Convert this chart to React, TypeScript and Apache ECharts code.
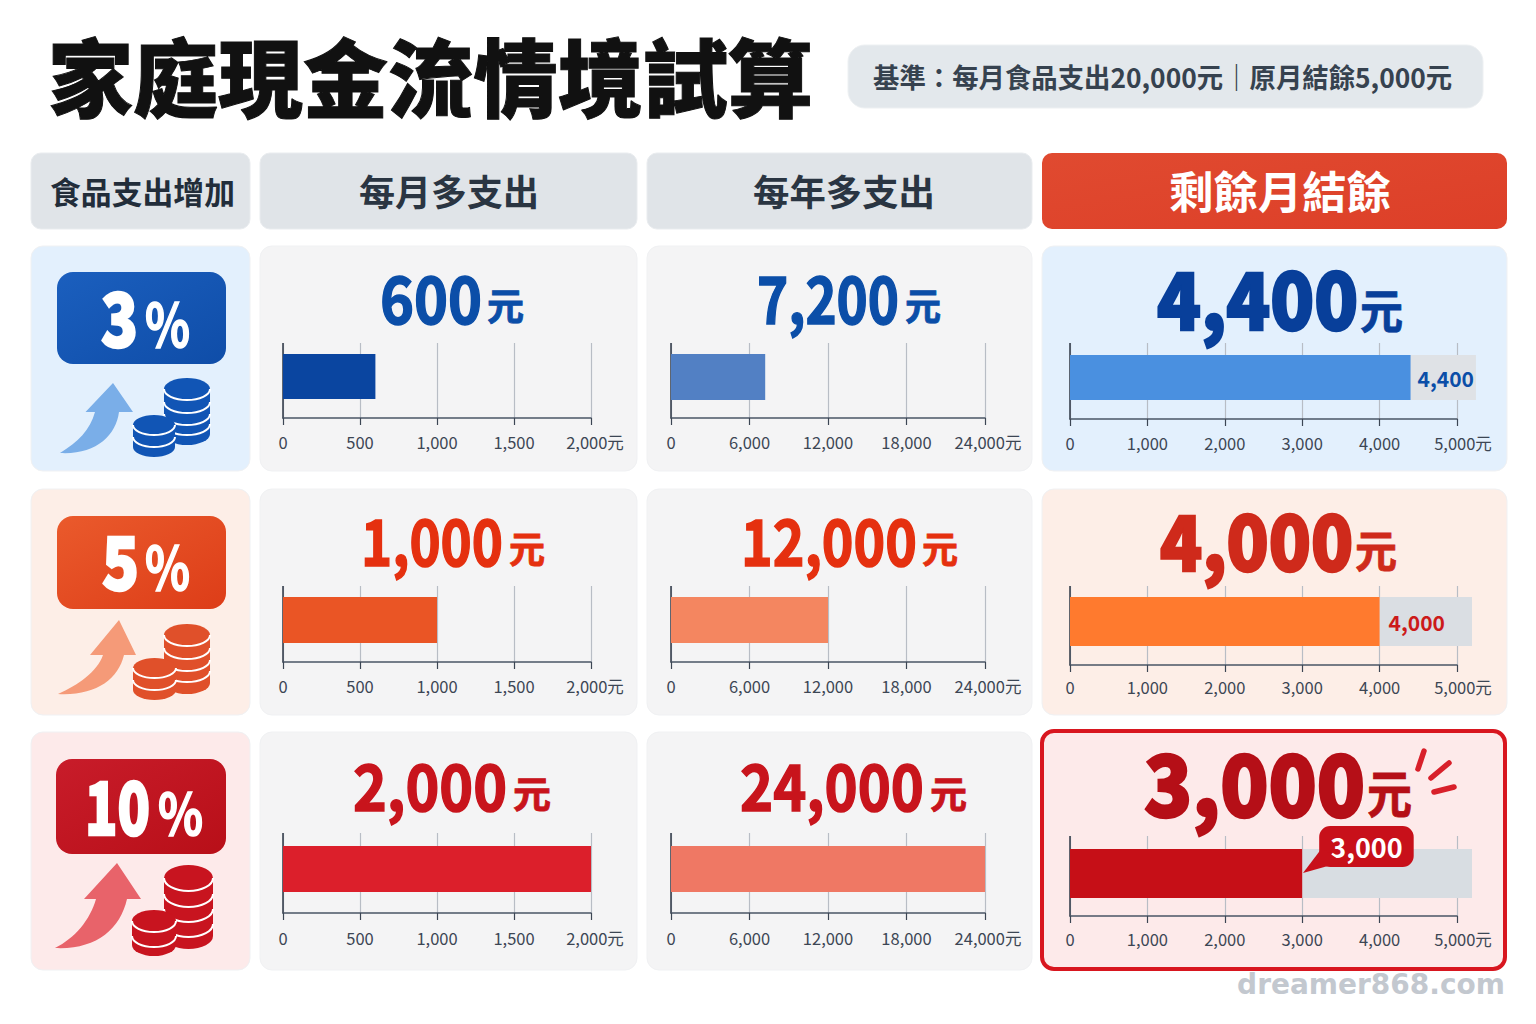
import React, { useEffect, useLayoutEffect, useRef } from "react";
import * as echarts from "echarts";

const FONT = '"Noto Sans CJK TC", "Noto Sans", sans-serif';

// ---- data ----
const title = "家庭現金流情境試算";
const subtitle = "基準：每月食品支出20,000元｜原月結餘5,000元";
const headers = ["食品支出增加", "每月多支出", "每年多支出", "剩餘月結餘"];
const increases = ["3", "5", "10"];
const monthlyExtra = [600, 1000, 2000];
const yearlyExtra = [7200, 12000, 24000];
const remaining = [4400, 4000, 3000];
const remainingTrack = [5245, 5194, 5194];
const monthlyTicks = [0, 500, 1000, 1500, 2000];
const yearlyTicks = [0, 6000, 12000, 18000, 24000];
const remainingTicks = [0, 1000, 2000, 3000, 4000, 5000];
const unit = "元";
const watermark = "dreamer868.com";

const fmt = (v: number) => v.toLocaleString("en-US");

// ---- layout & palette ----
const rowBoxes = [[246, 471], [489, 715], [732, 970]];
const colBoxes = [[31, 250], [260, 637], [647, 1032], [1042, 1507]];
const plotX = [[283, 591], [671, 985], [1070, 1457]];
// barTop, barBottom, axisY, lineTop per row and plot column
const plotY = [
  [[354, 399, 418, 343], [354, 400, 418, 343], [355, 400, 419, 343]],
  [[597, 643, 662, 586], [597, 643, 662, 586], [597, 646, 665, 586]],
  [[846, 892, 913, 833], [846, 892, 913, 833], [849, 898, 916, 836]],
];
const labelMargins = [[16, 16, 16], [16, 16, 14], [17, 17, 15]];
const lastLabelPad = [8, 6, 12];
const panelFill = [
  ["#e3f0fd", "#f4f4f5", "#f4f4f5", "#e3f0fd"],
  ["#fdeee7", "#f4f4f5", "#f4f4f5", "#fdeee7"],
  ["#fdeaea", "#f4f4f5", "#f4f4f5", "#fdeaea"],
];
const barColors = [
  ["#0a45a0", "#5280c4", "#4a90e0"],
  ["#ea5525", "#f48660", "#ff7a2e"],
  ["#dc1f2b", "#ef7864", "#c60f17"],
];
const trackColors = ["#dfe2e6", "#dadee3", "#d8dde2"];
const textColors = [
  ["#0b4ea8", "#0b4ea8", "#083f9a"],
  ["#e5300f", "#e5300f", "#cf2a1b"],
  ["#c8141c", "#c8141c", "#b50f17"],
];
const badgeColors = [["#1b5fbe", "#0f4da8"], ["#ea5a2c", "#dd3d18"], ["#c81c2a", "#b80f18"]];
const arrowColors = ["#7aaee8", "#f59a78", "#e8636a"];
const coinColors = ["#1155b5", "#e0502a", "#c8141f"];
const badgeBoxes = [[57, 226, 272, 364], [57, 226, 516, 609], [56, 226, 759, 854]];
// digit left, right, top, bottom
const pctBoxes = [[101, 138, 293, 347], [102, 139, 536, 590], [85, 150, 781, 835]];
// percent left, right, top, bottom
const pctSignBoxes = [[145, 190, 303, 347], [145, 190, 546, 590], [158, 203, 793, 835]];
// digits L,R,T,B  unit L,R,T,B
const valueBoxes = [
  [[380, 482, 276, 324, 487, 524, 290, 323], [757, 899, 276, 324, 905, 941, 290, 323], [1157, 1358, 272, 330, 1360, 1403, 290, 331]],
  [[361, 503, 519, 566, 509, 545, 533, 565], [741, 917, 519, 566, 922, 958, 533, 565], [1160, 1353, 515, 571, 1355, 1397, 532, 571]],
  [[353, 507, 764, 811, 513, 551, 778, 811], [740, 924, 764, 811, 930, 967, 778, 811], [1144, 1365, 755, 817, 1367, 1412, 772, 817]],
];
const arrowPaths = [
  "M60,453 C78,442 90,430 95,412 L85.5,412 L113,383 L133,412 L119,412 C116,436 95,455 60,453Z",
  "M58,694 C78,685 97,672 103,655 L90,655 L119,620 L136,655 L124,655 C118,680 95,696 58,694Z",
  "M55,948 C75,938 90,920 96,899 L84,899 L117,863 L141,899 L127,899 C120,930 95,950 55,948Z",
];
type Stack = { x: number; w: number; cy: number; ry: number; bottom: number; lines: number[] };
const stacks: Stack[][] = [
  [
    { x: 164, w: 46, cy: 389, ry: 11, bottom: 445, lines: [400, 413, 425, 435] },
    { x: 133, w: 42, cy: 425, ry: 10, bottom: 457, lines: [435, 447] },
  ],
  [
    { x: 164, w: 46, cy: 635, ry: 11, bottom: 694, lines: [646, 659, 671, 682] },
    { x: 133, w: 43, cy: 668, ry: 10, bottom: 700, lines: [678, 690] },
  ],
  [
    { x: 164, w: 49, cy: 878, ry: 13, bottom: 949, lines: [891, 907, 922, 937] },
    { x: 132, w: 44, cy: 921, ry: 11, bottom: 956, lines: [932, 947] },
  ],
];

arrowPaths.forEach((d, i) => {
  echarts.graphic.registerShape(`arrow${i}`, echarts.graphic.extendPath(d, {}) as any);
});
const stackBody = (s: Stack) => {
  const r = s.w / 2;
  return `M${s.x},${s.cy} A${r},${s.ry} 0 0 1 ${s.x + s.w},${s.cy} L${s.x + s.w},${s.bottom - s.ry} A${r},${s.ry} 0 0 1 ${s.x},${s.bottom - s.ry} Z`;
};
const stackLines = (s: Stack) => {
  const r = s.w / 2;
  return s.lines
    .map((y) => `M${s.x},${y - s.ry} A${r},${s.ry} 0 0 0 ${s.x + s.w},${y - s.ry}`)
    .join(" ");
};
stacks.forEach((pair, i) =>
  pair.forEach((s, j) => {
    echarts.graphic.registerShape(`coin${i}${j}`, echarts.graphic.extendPath(stackBody(s), {}) as any);
    echarts.graphic.registerShape(`coinl${i}${j}`, echarts.graphic.extendPath(stackLines(s), {}) as any);
  })
);

let measureCtx: CanvasRenderingContext2D | null = null;
const measure = (text: string, size: number, weight: number | string) => {
  if (!measureCtx) measureCtx = document.createElement("canvas").getContext("2d");
  measureCtx!.font = `${weight} ${size}px ${FONT}`;
  return measureCtx!.measureText(text).width;
};

// A text squeezed to a known left/right span, vertically centred on cy
const fitText = (
  text: string,
  l: number,
  r: number,
  cy: number,
  size: number,
  weight: number,
  fill: string,
  bold = 0
) => {
  const w = measure(text, size, weight);
  return {
    type: "text",
    x: l,
    y: cy - 0.07 * size,
    scaleX: (r - l) / w,
    z: 6,
    style: {
      text,
      fill,
      fontSize: size,
      fontWeight: weight,
      fontFamily: FONT,
      align: "left",
      verticalAlign: "middle",
      ...(bold ? { stroke: fill, lineWidth: bold, lineJoin: "round" } : {}),
    },
  };
};

const rect = (x1: number, y1: number, x2: number, y2: number, fill: any, r: number, z = -1, extra: any = {}) => ({
  type: "rect",
  z,
  shape: { x: x1, y: y1, width: x2 - x1, height: y2 - y1, r },
  style: { fill, ...extra },
});
const grad = (a: string, b: string) => ({
  type: "linear",
  x: 0,
  y: 0,
  x2: 1,
  y2: 1,
  colorStops: [
    { offset: 0, color: a },
    { offset: 1, color: b },
  ],
});

function buildOption() {
  const graphics: any[] = [];
  // subtitle
  graphics.push(rect(848, 45, 1483, 108, "#e3e8ec", 17, -1, { stroke: "#edf0f2", lineWidth: 1 }));
  graphics.push(fitText(subtitle, 873, 1452, 78, 27, 700, "#36424f"));
  // header row
  const headerSpan = [[50, 235, 31, "#222d3a"], [359, 539, 36, "#2a3542"], [753, 935, 36, "#2a3542"], [1169, 1391, 44, "#ffffff"]] as any[];
  headers.forEach((h, c) => {
    const [x1, x2] = colBoxes[c];
    const fill = c === 3 ? grad("#e04a30", "#dd3f28") : "#e0e4e8";
    graphics.push(rect(x1, 153, x2, 229, fill, 10, -1, c === 3 ? {} : { stroke: "#e9ecef", lineWidth: 1 }));
    const [l, r, s, col] = headerSpan[c];
    graphics.push(fitText(h, l, r, 193, s, 700, col));
  });
  rowBoxes.forEach(([y1, y2], r) => {
    colBoxes.forEach(([x1, x2], c) => {
      const hot = r === 2 && c === 3;
      if (hot) {
        graphics.push(rect(1042, 731, 1505, 969, panelFill[r][c], 12, -1, { stroke: "#d8161f", lineWidth: 4 }));
      } else {
        graphics.push(rect(x1, y1, x2, y2, panelFill[r][c], 12, -1, { stroke: "#f0f1f3", lineWidth: 1 }));
      }
    });
    // badge
    const [bx1, bx2, by1, by2] = badgeBoxes[r];
    graphics.push(rect(bx1, by1, bx2, by2, grad(badgeColors[r][0], badgeColors[r][1]), 16, 1));
    const [pl, pr, pt, pb] = pctBoxes[r];
    graphics.push(fitText(increases[r], pl, pr, (pt + pb) / 2, (pb - pt) / 0.733, 900, "#ffffff", 2.5));
    const [sl, sr, st, sb] = pctSignBoxes[r];
    graphics.push(fitText("%", sl, sr, (st + sb) / 2, (sb - st) / 0.733, 700, "#ffffff", 1.5));
    // arrow
    graphics.push({ type: `arrow${r}`, z: 1, style: { fill: arrowColors[r] } });
    // coins
    stacks[r].forEach((_, j) => {
      graphics.push({ type: `coin${r}${j}`, z: 1 + j * 0.2, style: { fill: coinColors[r] } });
      graphics.push({ type: `coinl${r}${j}`, z: 1.1 + j * 0.2, style: { fill: "none", stroke: "#ffffff", lineWidth: 2 } });
    });
    // big values
    [monthlyExtra[r], yearlyExtra[r], remaining[r]].forEach((v, c) => {
      const [dl, dr, dt, db, ul, ur, ut, ub] = valueBoxes[r][c];
      const weight = c === 2 ? 900 : 700;
      graphics.push(fitText(fmt(v), dl, dr, (dt + db) / 2, (db - dt) / 0.733, weight, textColors[r][c], c === 2 ? 2.5 : 1.5));
      graphics.push(fitText(unit, ul, ur, (ut + ub) / 2, (ub - ut) / 0.88, 700, textColors[r][c], 0.8));
      // hides the band above the top of the gridlines
      const [x0, x1] = plotX[c];
      const [bt, bb, ax, lt] = plotY[r][c];
      const top = ax - 2 * (ax - (bt + bb) / 2);
      if (top < lt) graphics.push(rect(x0 - 3, top - 1, x1 + 3, lt, panelFill[r][c + 1], 0, 1));
    });
  });
  // callout tail and burst
  graphics.push({ type: "polygon", z: 5, shape: { points: [[1303, 873], [1322, 848], [1342, 862]] }, style: { fill: "#c8101a" } });
  [[1424, 751, 1418, 769], [1449, 763, 1431, 778], [1454, 787, 1434, 792]].forEach(([x1, y1, x2, y2]) =>
    graphics.push({ type: "line", z: 6, shape: { x1, y1, x2, y2 }, style: { stroke: "#d8202a", lineWidth: 5.5, lineCap: "round" } })
  );
  graphics.push({
    type: "text",
    x: 1371,
    y: 984,
    z: 6,
    style: { text: watermark, fill: "#c3c8cf", fontSize: 28, fontWeight: 700, fontFamily: '"DejaVu Sans", sans-serif', align: "center", verticalAlign: "middle" },
  });

  const grid: any[] = [];
  const xAxis: any[] = [];
  const yAxis: any[] = [];
  const series: any[] = [];
  const ticks = [monthlyTicks, yearlyTicks, remainingTicks];
  const values = [monthlyExtra, yearlyExtra, remaining];
  rowBoxes.forEach((_, r) => {
    plotX.forEach(([x0, x1], c) => {
      const idx = grid.length;
      const [bt, bb, ax] = plotY[r][c];
      const center = (bt + bb) / 2;
      const top = ax - 2 * (ax - center);
      grid.push({ left: x0, width: x1 - x0, top, height: ax - top, containLabel: false });
      const tk = ticks[c];
      const max = tk[tk.length - 1];
      xAxis.push({
        type: "value",
        gridIndex: idx,
        min: 0,
        max,
        interval: tk[1],
        axisLine: { show: true, lineStyle: { color: "#4a5565", width: 1.5 } },
        axisTick: { show: true, length: 7, lineStyle: { color: "#3c4654", width: 1.2 } },
        splitLine: { show: true, lineStyle: { color: "#b8bdc5", width: 1.2 } },
        axisLabel: {
          show: true,
          margin: labelMargins[r][c],
          fontSize: 16.5,
          fontFamily: FONT,
          color: "#3c4654",
          formatter: (v: number) => (v === max ? `{last|${fmt(v)}${unit}}` : fmt(v)),
          rich: {
            last: {
              fontSize: 16.5,
              fontFamily: FONT,
              color: "#3c4654",
              padding: [0, 0, 0, lastLabelPad[c]],
            },
          },
        },
      });
      yAxis.push({
        type: "category",
        gridIndex: idx,
        data: [`${increases[r]}%`],
        axisLine: { show: true, lineStyle: { color: "#2e3744", width: 1.5 } },
        axisTick: { show: false },
        axisLabel: { show: false },
        splitLine: { show: false },
      });
      if (c === 2) {
        series.push({
          type: "bar",
          xAxisIndex: idx,
          yAxisIndex: idx,
          data: [remainingTrack[r]],
          barWidth: bb - bt,
          barGap: "-100%",
          clip: false,
          silent: true,
          itemStyle: { color: trackColors[r] },
        });
      }
      const callout = r === 2;
      series.push({
        type: "bar",
        xAxisIndex: idx,
        yAxisIndex: idx,
        data: [values[c][r]],
        barWidth: bb - bt,
        barGap: "-100%",
        clip: false,
        itemStyle: { color: barColors[r][c] },
        label:
          c === 2
            ? {
                show: true,
                position: "right",
                distance: callout ? 0 : r === 0 ? 7 : 9,
                offset: callout ? [17, -27] : [0, 0],
                fontFamily: FONT,
                fontWeight: 700,
                fontSize: callout ? 27 : 21,
                color: callout ? "#ffffff" : r === 0 ? "#0b4ea8" : "#cc1a1a",
                formatter: (p: any) => fmt(p.value),
                ...(callout
                  ? { backgroundColor: "#c8101a", borderRadius: 11, padding: [7, 11, 7, 11] }
                  : {}),
              }
            : { show: false },
      });
    });
  });

  return {
    animation: false,
    backgroundColor: "#ffffff",
    title: {
      text: title,
      left: 48,
      top: 31,
      padding: 0,
      textStyle: { fontSize: 85, fontWeight: 900, fontFamily: FONT, color: "#111111", textBorderColor: "#111111", textBorderWidth: 1 },
    },
    tooltip: { show: false },
    grid,
    xAxis,
    yAxis,
    series,
    graphic: { elements: graphics },
  };
}

export default function App() {
  const ref = useRef<HTMLDivElement>(null);
  useLayoutEffect(() => {
    document.body.style.margin = "0";
    document.body.style.overflow = "hidden";
  }, []);
  useEffect(() => {
    const chart = echarts.init(ref.current!, undefined, { renderer: "svg" });
    chart.setOption(buildOption() as any);
    return () => chart.dispose();
  }, []);
  return <div ref={ref} style={{ width: 1536, height: 1024 }} />;
}
